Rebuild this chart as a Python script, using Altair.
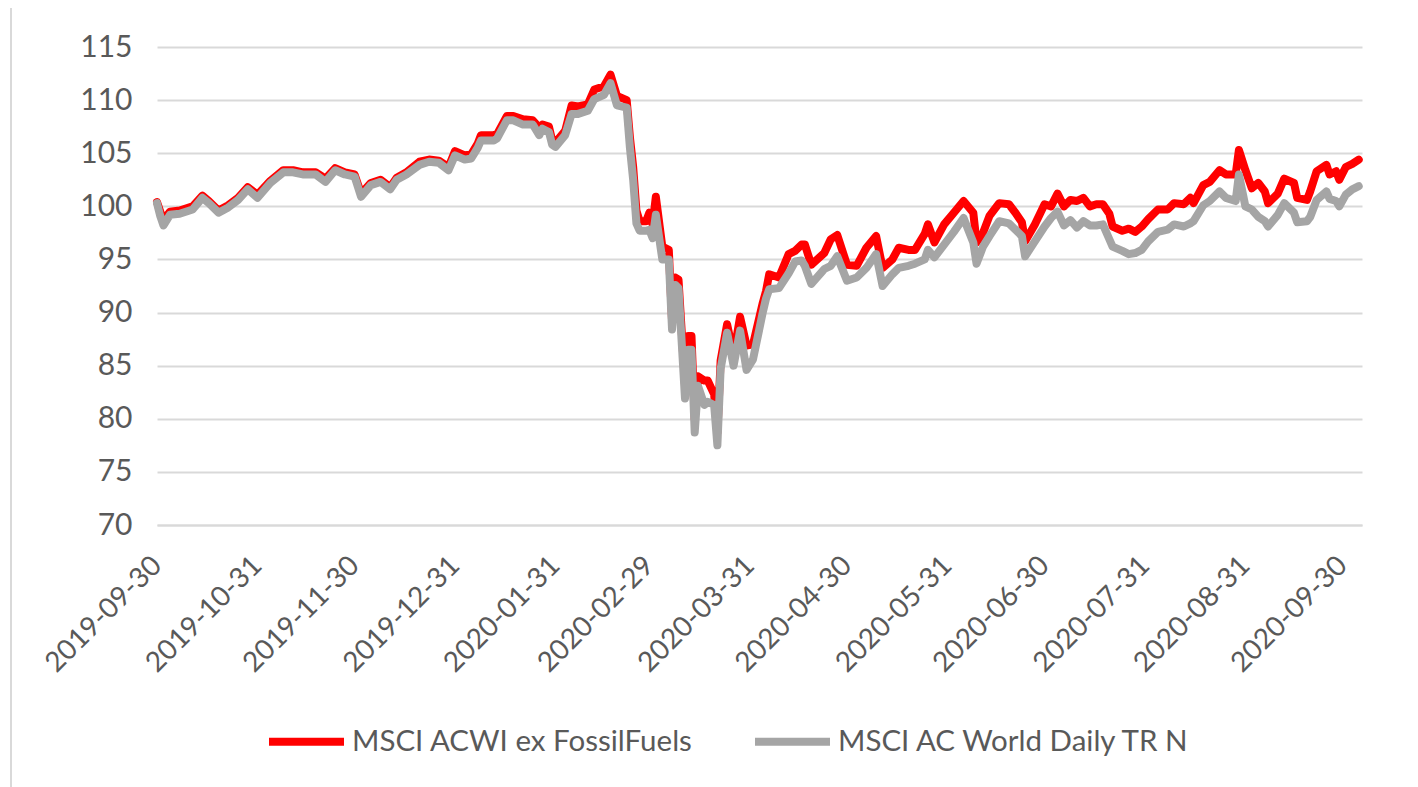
import altair as alt
import pandas as pd

RED_NAME = "MSCI ACWI ex FossilFuels"
GRAY_NAME = "MSCI AC World Daily TR N"

day_offsets = [
    0, 1, 2, 4, 7, 11, 14, 16, 19, 22, 25, 28, 31, 35, 39, 42, 45, 49, 52, 55,
    58, 61, 63, 66, 69, 72, 74, 77, 81, 84, 87, 90, 92, 95, 97, 99, 100, 104, 105, 108,
    110, 113, 116, 118, 119, 121, 122, 123, 126, 128, 130, 133, 135, 138, 140, 142, 145, 146, 147, 148,
    149, 151, 152, 153, 154, 156, 158, 159, 160, 161, 163, 164, 165, 166, 167, 169, 170, 172, 173, 174,
    176, 178, 180, 182, 184, 187, 188, 189, 192, 195, 197, 199, 200, 202, 206, 208, 210, 213, 216, 219,
    222, 224, 227, 229, 232, 234, 237, 238, 240, 243, 246, 249, 252, 253, 255, 257, 260, 263, 265, 267,
    268, 271, 274, 276, 278, 280, 282, 284, 286, 288, 290, 292, 294, 295, 298, 300, 302, 304, 306, 309,
    312, 314, 317, 319, 320, 323, 325, 328, 330, 333, 334, 336, 338, 340, 342, 343, 346, 348, 351, 352,
    355, 356, 358, 361, 362, 364, 365, 367, 369, 371,
]

acwi_ex_fossil = [
    100.4, 99.5, 98.7, 99.5, 99.6, 100.0, 101.0, 100.5, 99.6, 100.1, 100.8, 101.8, 101.1, 102.4, 103.4, 103.4, 103.2, 103.2, 102.6, 103.6,
    103.2, 103.0, 101.2, 102.2, 102.5, 101.8, 102.7, 103.2, 104.2, 104.4, 104.3, 103.7, 105.2, 104.8, 104.9, 105.9, 106.7, 106.7, 106.8, 108.5,
    108.5, 108.2, 108.1, 107.4, 107.7, 107.5, 106.2, 106.0, 107.1, 109.5, 109.4, 109.6, 111.0, 111.3, 112.4, 110.4, 110.0, 106.5, 103.7, 99.6,
    98.6, 98.6, 99.4, 98.3, 100.9, 96.2, 95.9, 89.3, 93.3, 93.1, 83.2, 87.8, 87.8, 80.0, 84.0, 83.6, 83.6, 82.3, 78.7, 85.5,
    88.9, 86.0, 89.6, 86.9, 87.0, 90.9, 92.0, 93.6, 93.3, 95.5, 95.8, 96.4, 96.4, 94.5, 95.6, 96.9, 97.3, 94.5, 94.4, 96.1,
    97.2, 94.2, 95.0, 96.1, 95.9, 95.9, 97.4, 98.3, 96.6, 98.3, 99.4, 100.5, 99.4, 96.6, 97.5, 99.1, 100.3, 100.2, 99.4, 98.5,
    96.7, 98.3, 100.2, 100.0, 101.2, 100.0, 100.6, 100.5, 100.8, 100.0, 100.2, 100.2, 99.3, 98.1, 97.7, 97.9, 97.6, 98.1, 98.8, 99.7,
    99.7, 100.3, 100.2, 100.8, 100.3, 102.0, 102.3, 103.4, 103.0, 103.0, 105.3, 103.4, 101.7, 102.2, 101.4, 100.3, 101.2, 102.6, 102.2, 100.8,
    100.6, 101.4, 103.3, 103.9, 103.0, 103.3, 102.5, 103.7, 104.0, 104.4,
]

acwi = [
    100.3, 99.1, 98.2, 99.2, 99.3, 99.7, 100.8, 100.3, 99.4, 99.9, 100.6, 101.6, 100.8, 102.2, 103.2, 103.2, 103.0, 103.0, 102.3, 103.4,
    103.0, 102.8, 100.9, 102.0, 102.3, 101.6, 102.5, 103.0, 103.9, 104.2, 104.1, 103.4, 104.8, 104.4, 104.5, 105.5, 106.2, 106.2, 106.4, 108.1,
    108.1, 107.7, 107.7, 106.7, 107.3, 107.0, 105.8, 105.6, 106.7, 108.7, 108.7, 109.0, 110.1, 110.5, 111.6, 109.5, 109.3, 105.5, 102.5, 98.4,
    97.7, 97.7, 97.8, 97.0, 99.2, 95.0, 95.0, 88.4, 92.6, 92.3, 81.9, 86.5, 86.5, 78.7, 83.1, 81.3, 81.6, 81.3, 77.5, 84.7,
    88.1, 85.0, 88.3, 84.6, 85.6, 90.0, 91.3, 92.2, 92.3, 93.7, 94.8, 94.9, 94.4, 92.7, 94.1, 94.4, 95.3, 93.0, 93.3, 94.2,
    95.5, 92.5, 93.6, 94.2, 94.4, 94.6, 95.0, 95.9, 95.2, 96.4, 97.6, 98.9, 96.6, 94.6, 96.2, 97.2, 98.6, 98.4, 97.8, 97.2,
    95.3, 96.7, 98.1, 98.9, 99.5, 98.2, 98.7, 98.0, 98.6, 98.2, 98.2, 98.3, 96.9, 96.2, 95.8, 95.5, 95.6, 95.9, 96.7, 97.6,
    97.8, 98.3, 98.1, 98.4, 98.6, 100.1, 100.5, 101.4, 100.8, 100.5, 103.0, 100.0, 99.7, 99.0, 98.6, 98.1, 99.2, 100.3, 99.4, 98.5,
    98.6, 99.0, 100.6, 101.4, 100.7, 100.5, 100.0, 101.1, 101.6, 101.9,
]

y_ticks = [70, 75, 80, 85, 90, 95, 100, 105, 110, 115]
x_tick_dates = [
    "2019-09-30", "2019-10-31", "2019-11-30", "2019-12-31", "2020-01-31", "2020-02-29",
    "2020-03-31", "2020-04-30", "2020-05-31", "2020-06-30", "2020-07-31", "2020-08-31", "2020-09-30",
]
x_domain = ["2019-09-30", "2020-10-06"]

start = pd.Timestamp("2019-09-30")
dates = [(start + pd.Timedelta(days=d)).strftime("%Y-%m-%d") for d in day_offsets]
n = len(dates)
df = pd.DataFrame({
    "date": dates + dates,
    "value": acwi_ex_fossil + acwi,
    "series": [RED_NAME] * n + [GRAY_NAME] * n,
})


def dt(s):
    y, m, d = (int(p) for p in s.split("-"))
    return alt.DateTime(year=y, month=m, date=d, utc=True)


FONT = "Lato"
TEXT = "#595959"

x_enc = alt.X(
    "date:T",
    scale=alt.Scale(type="utc", domain=[dt(s) for s in x_domain], nice=False),
    axis=alt.Axis(
        values=[dt(s) for s in x_tick_dates],
        labelExpr="utcFormat(datum.value, '%Y-%m-%d')",
        labelAngle=-45,
        labelAlign="right",
        labelBaseline="middle",
        labelPadding=36,
        labelFontSize=28,
        labelFont=FONT,
        labelColor=TEXT,
        labelFlush=False,
        labelOverlap=False,
        grid=False,
        ticks=False,
        tickSize=0,
        domain=True,
        domainColor="#d9d9d9",
        domainWidth=2,
        title=None,
    ),
)

y_enc = alt.Y(
    "value:Q",
    scale=alt.Scale(domain=[70, 115], nice=False, zero=False),
    axis=alt.Axis(
        values=y_ticks,
        grid=True,
        gridColor="#d9d9d9",
        gridWidth=2,
        domain=False,
        ticks=False,
        tickSize=0,
        labelFontSize=30,
        labelFont=FONT,
        labelColor=TEXT,
        labelPadding=25,
        title=None,
    ),
)

color_enc = alt.Color(
    "series:N",
    scale=alt.Scale(domain=[RED_NAME, GRAY_NAME], range=["#FF0000", "#A5A5A5"]),
    legend=alt.Legend(
        title=None,
        orient="none",
        legendX=108,
        legendY=653,
        direction="horizontal",
        symbolType="stroke",
        symbolSize=5625,
        symbolStrokeWidth=8,
        labelFontSize=29.5,
        labelFont=FONT,
        labelColor=TEXT,
        labelLimit=0,
        labelOffset=4,
        columnPadding=46,
        padding=0,
    ),
)

layers = []
for name in [RED_NAME, GRAY_NAME]:
    layers.append(
        alt.Chart(df)
        .transform_filter(alt.datum.series == name)
        .mark_line(strokeWidth=8, strokeJoin="round", strokeCap="round")
        .encode(x=x_enc, y=y_enc, color=color_enc)
    )

# light chart-area border on the left edge (decoration)
border = (
    alt.Chart(pd.DataFrame({"k": [0]}))
    .mark_rule(color="#d9d9d9", strokeWidth=2)
    .encode(x=alt.value(-146), y=alt.value(-39), y2=alt.value(745))
)

chart = (
    alt.layer(*layers, border)
    .properties(
        width=1205,
        height=478,
        padding={"left": 149, "top": 39, "right": 40, "bottom": 270},
        autosize=alt.AutoSizeParams(type="none"),
        background="white",
    )
    .configure_view(stroke=None)
)

chart.save("out.html", embed_options={"renderer": "svg", "actions": False})
